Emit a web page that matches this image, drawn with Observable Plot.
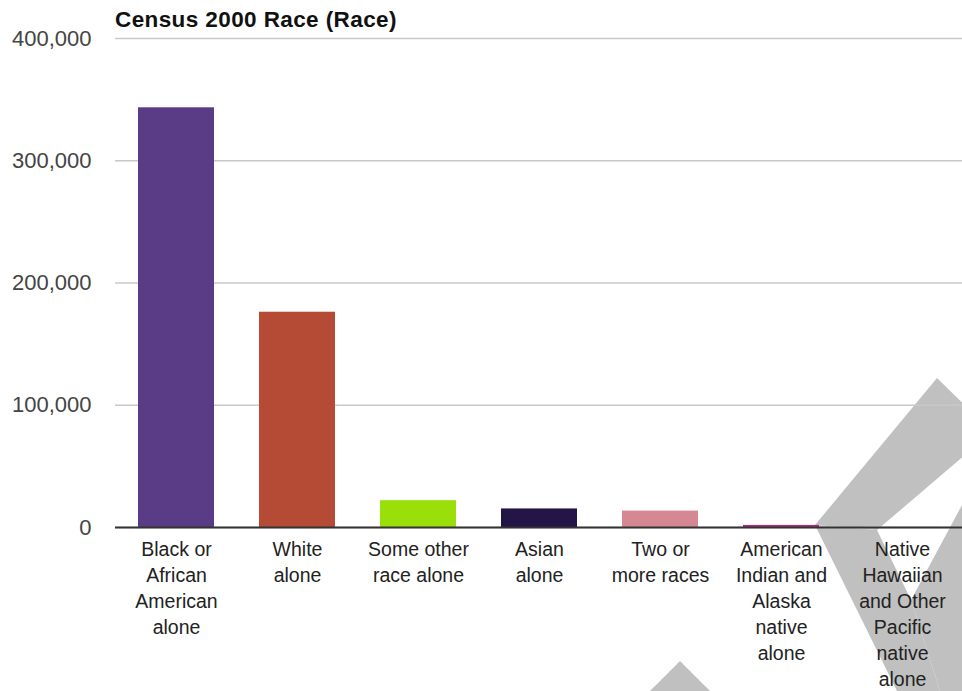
<!DOCTYPE html>
<html><head><meta charset="utf-8">
<script src="https://cdn.jsdelivr.net/npm/d3@7"></script>
<script src="https://cdn.jsdelivr.net/npm/@observablehq/plot@0.6"></script>
<style>
body{margin:0;background:#fff;font-family:"Liberation Sans",Arial,sans-serif;}
#wrap{position:relative;width:962px;height:691px;overflow:hidden;}
#title{height:30px;box-sizing:border-box;padding-top:10px;line-height:20px;padding-left:115px;font-weight:bold;font-size:22.5px;letter-spacing:0.4px;color:#111;white-space:nowrap;}
</style></head>
<body>
<div id="wrap">
<div id="title">Census 2000 Race (Race)</div>
<div id="chart"></div>
</div>
<script>
const races = [
  "Black or African American alone",
  "White alone",
  "Some other race alone",
  "Asian alone",
  "Two or more races",
  "American Indian and Alaska native alone",
  "Native Hawaiian and Other Pacific native alone"
];
const population = [343312, 176101, 21950, 15189, 13446, 1713, 348];
const tickLabels = [
  "Black or\nAfrican\nAmerican\nalone",
  "White\nalone",
  "Some other\nrace alone",
  "Asian\nalone",
  "Two or\nmore races",
  "American\nIndian and\nAlaska\nnative\nalone",
  "Native\nHawaiian\nand Other\nPacific\nnative\nalone"
];
const colors = ["#5a3c86", "#b54a35", "#9bdf0a", "#231546", "#d58893", "#ad2a80", "#d3e0f2"];
const yTicks = [0, 100000, 200000, 300000, 400000];

const data = races.map((r, i) => ({race: r, population: population[i]}));

const chart = Plot.plot({
  width: 962,
  height: 661,
  marginTop: 8,
  marginBottom: 164,
  marginLeft: 115,
  marginRight: 0,
  style: {fontFamily: "'Liberation Sans', Arial, sans-serif", background: "transparent", overflow: "visible"},
  x: {domain: races, paddingInner: 0.372, paddingOuter: 0.186, label: null},
  y: {domain: [0, 400000], label: null},
  color: {domain: races, range: colors},
  marks: [
    Plot.gridY(yTicks, {stroke: "#c8c8c8", strokeOpacity: 1, strokeWidth: 1.5}),
    Plot.barY(data, {x: "race", y: "population", fill: "race"}),
    Plot.ruleY([0], {stroke: "#333", strokeWidth: 2.2}),
    Plot.axisY(yTicks, {tickSize: 0, tickPadding: 24, tickFormat: d3.format(","), fontSize: 22, fill: "#444", label: null}),
    Plot.axisX({tickSize: 0, tickPadding: 10, tickFormat: d => tickLabels[races.indexOf(d)], fontSize: 19.5, lineHeight: 1.33, fill: "#222", label: null})
  ]
});
document.getElementById("chart").appendChild(chart);

// decorative watermark of the reference image, drawn behind all chart marks (page pixel coords; SVG starts 30px down)
const wmShapes = [
  "937,378 992,432 877,530 815,525",
  "815,525 877,530 911,600 940,691 897,691",
  "911,600 962,505 962,691 940,691",
  "680,661 650,691 710,691"
];
const wm = d3.select(chart).insert("g", ":first-child")
  .attr("transform", "translate(0,-30)")
  .attr("fill", "#c0c0c0");
wmShapes.forEach(p => wm.append("polygon").attr("points", p));
</script>
</body></html>
